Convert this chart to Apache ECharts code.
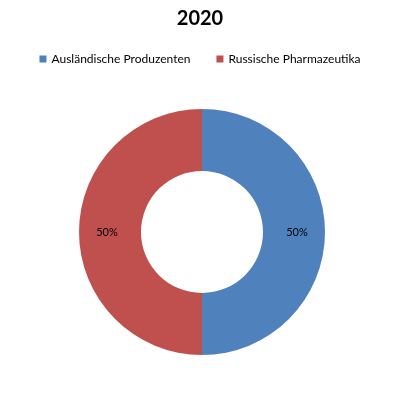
<!DOCTYPE html>
<html><head><meta charset="utf-8">
<script src="https://cdn.jsdelivr.net/npm/echarts@6/dist/echarts.min.js"></script>
<style>html,body{margin:0;padding:0;background:#fff}#c{width:400px;height:400px}</style>
</head><body><div id="c"></div>
<script>
const title = '2020';
const categories = ['Ausländische Produzenten', 'Russische Pharmazeutika'];
const values = [50, 50];
const colors = ['#4F81BD', '#C0504D'];

const chart = echarts.init(document.getElementById('c'), null, {renderer: 'canvas'});
chart.setOption({
  animation: false,
  title: {text: title, left: 'center', top: 4,
    textStyle: {fontFamily: 'Lato', fontWeight: 'bold', fontSize: 20, color: '#000'}},
  legend: {top: 48, left: 'center', itemWidth: 7, itemHeight: 7, itemGap: 26,
    icon: 'rect', textStyle: {fontFamily: 'Lato', fontSize: 12, color: '#000'},
    data: categories},
  color: colors,
  series: [{
    type: 'pie', center: [202, 232], radius: [61, 123], startAngle: 90, clockwise: true,
    label: {show: true, position: 'inside', formatter: '{d}%',
      fontFamily: 'Lato', fontSize: 11, color: '#000'},
    labelLine: {show: false},
    itemStyle: {borderWidth: 0},
    emphasis: {disabled: true},
    data: categories.map((n, i) => ({name: n, value: values[i]}))
  }]
});
</script></body></html>
